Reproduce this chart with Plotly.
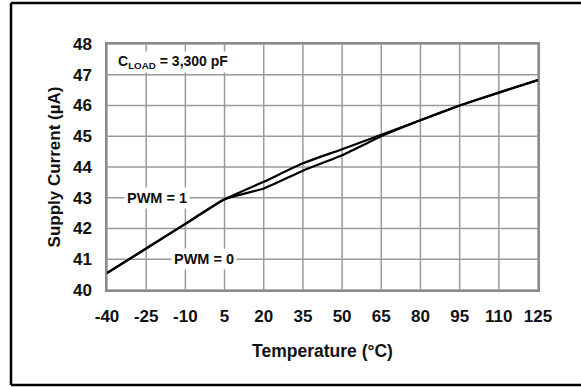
import plotly.graph_objects as go

# Data
temperature_c = [-40, -25, -10, 5, 20, 35, 50, 65, 80, 95, 110, 125]
current_pwm1 = [40.55, 41.35, 42.15, 42.95, 43.52, 44.12, 44.58, 45.05, 45.52, 46.0, 46.42, 46.83]
current_pwm0 = [40.55, 41.35, 42.15, 42.95, 43.30, 43.88, 44.38, 45.00, 45.52, 46.0, 46.42, 46.83]

x_ticks = [-40, -25, -10, 5, 20, 35, 50, 65, 80, 95, 110, 125]
y_ticks = [40, 41, 42, 43, 44, 45, 46, 47, 48]

FONT = "Arial, Liberation Sans, sans-serif"
GRID = "#9a9a9a"

fig = go.Figure()

# grid lines as a trace built from the tick arrays (drawn beneath the curves)
gx, gy = [], []
for xv in x_ticks:
    gx += [xv, xv, None]
    gy += [y_ticks[0], y_ticks[-1], None]
for yv in y_ticks:
    gx += [x_ticks[0], x_ticks[-1], None]
    gy += [yv, yv, None]
fig.add_trace(go.Scatter(x=gx, y=gy, mode="lines", line=dict(color=GRID, width=1.5),
                         hoverinfo="skip", showlegend=False, connectgaps=False))

for name, vals in [("PWM = 1", current_pwm1), ("PWM = 0", current_pwm0)]:
    fig.add_trace(go.Scatter(
        x=temperature_c, y=vals, mode="lines", name=name,
        line=dict(color="black", width=2.2, shape="spline", smoothing=0.4),
        showlegend=False,
    ))

# plot area: x 107..538, y 44..290
L, R, T, B = 107, 43, 44, 97
W, H = 581, 387
pw, ph = W - L - R, H - T - B

def px2paper_x(p):
    return (p - L) / pw

def px2paper_y(p):
    return (H - B - p) / ph

fig.update_layout(
    template="none",
    width=W, height=H,
    margin=dict(l=L, r=R, t=T, b=B, autoexpand=False),
    paper_bgcolor="white", plot_bgcolor="white",
    font=dict(family=FONT, color="black", size=15),
    xaxis=dict(
        range=[-40, 125], tickvals=x_ticks, ticktext=[f"<b>{v}</b>" for v in x_ticks],
        showgrid=False,
        showline=True, linecolor="#8a8a8a", linewidth=1.5, mirror=True,
        zeroline=False, ticks="outside", ticklen=10, tickcolor="rgba(0,0,0,0)",
        tickfont=dict(family=FONT, size=17, color="#111"),
        title=dict(text="<b>Temperature (°C)</b>", font=dict(family=FONT, size=17.5, color="#111"), standoff=20),
    ),
    yaxis=dict(
        range=[40, 48], tickvals=y_ticks, ticktext=[f"<b>{v}</b>" for v in y_ticks],
        showgrid=False,
        showline=True, linecolor="#8a8a8a", linewidth=1.5, mirror=True,
        zeroline=False, ticks="outside", ticklen=10, tickcolor="rgba(0,0,0,0)",
        tickfont=dict(family=FONT, size=17, color="#111"),
        title=dict(text="<b>Supply Current (µA)</b>", font=dict(family=FONT, size=17, color="#111"), standoff=8),
    ),
)

fig.add_annotation(x=-36.5, y=47.42, xanchor="left", yanchor="middle",
                   text="<b>C<sub>LOAD</sub> = 3,300 pF</b>", showarrow=False,
                   font=dict(family=FONT, size=14, color="#111"), bgcolor="white")
fig.add_annotation(x=-21, y=43, text="<b>PWM = 1</b>", showarrow=False,
                   font=dict(family=FONT, size=14.5, color="#111"), bgcolor="white", borderpad=2)
fig.add_annotation(x=-3, y=41, text="<b>PWM = 0</b>", showarrow=False,
                   font=dict(family=FONT, size=14.5, color="#111"), bgcolor="white", borderpad=2)

# outer frame (left, top, bottom only)
x_left = px2paper_x(11)
x_right = px2paper_x(590)
y_top = px2paper_y(3)
y_bot = px2paper_y(385)
for x0, y0, x1, y1 in [(x_left, y_bot, x_left, y_top), (x_left, y_top, x_right, y_top), (x_left, y_bot, x_right, y_bot)]:
    fig.add_shape(type="line", xref="paper", yref="paper", x0=x0, y0=y0, x1=x1, y1=y1,
                  line=dict(color="black", width=2.5))

fig.write_html("out.html")
